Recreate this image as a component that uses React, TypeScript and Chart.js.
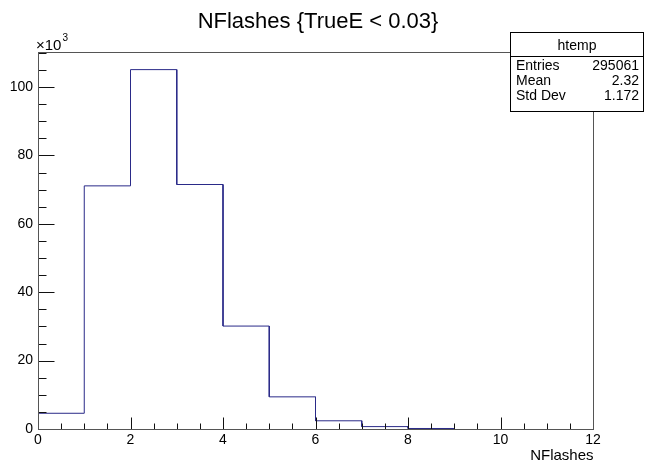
import React, { useEffect, useRef } from "react";
import { Chart, registerables } from "chart.js";

Chart.register(...registerables);

// ---- data ----
const chartTitle = "NFlashes {TrueE < 0.03}";
const xAxisTitle = "NFlashes";
const yExponent = "3"; // counts shown in units of 10^3
const binEdges = [0, 1, 2, 3, 4, 5, 6, 7, 8, 9];
const binCounts = [4.6, 71.1, 105.1, 71.5, 30.1, 9.4, 2.4, 0.7, 0.15]; // ×10^3 entries
const xTickLabels = [0, 2, 4, 6, 8, 10, 12];
const yTickLabels = [0, 20, 40, 60, 80, 100];
const statsTitle = "htemp";
const statsNames = ["Entries", "Mean", "Std Dev"];
const statsValues = ["295061", "2.32", "1.172"];

const FONT = "'Liberation Sans', Arial, Helvetica, sans-serif";

const rootStyle = {
  id: "rootStyle",
  afterDraw(chart: any) {
    const { ctx, chartArea, scales } = chart;
    const xs = scales.x;
    const ys = scales.y;
    const L = Math.round(chartArea.left) + 0.5;
    const R = Math.round(chartArea.right) + 0.5;
    const T = Math.round(chartArea.top) + 0.5;
    const B = Math.round(chartArea.bottom) + 0.5;
    ctx.save();
    // ticks
    ctx.strokeStyle = "#111";
    ctx.lineWidth = 1;
    ctx.beginPath();
    for (let v = xs.min; v <= xs.max + 1e-9; v += 0.5) {
      const px = Math.round(xs.getPixelForValue(v)) + 0.5;
      const major = Math.abs(v / 2 - Math.round(v / 2)) < 1e-9;
      ctx.moveTo(px, B);
      ctx.lineTo(px, B - (major ? 12 : 6));
    }
    for (let v = 0; v <= ys.max + 1e-9; v += 5) {
      const py = Math.round(ys.getPixelForValue(v)) + 0.5;
      const major = Math.abs(v / 20 - Math.round(v / 20)) < 1e-9;
      ctx.moveTo(L, py);
      ctx.lineTo(L + (major ? 16 : 8), py);
    }
    ctx.stroke();
    // frame
    ctx.strokeStyle = "#555";
    ctx.strokeRect(L, T, R - L, B - T);

    // title
    ctx.fillStyle = "#000";
    ctx.font = `22px ${FONT}`;
    ctx.textAlign = "center";
    ctx.textBaseline = "alphabetic";
    ctx.fillText(chartTitle, 318, 28);

    // x10^3
    ctx.textAlign = "left";
    ctx.font = `15px ${FONT}`;
    ctx.fillText("\u00d710", 36, 50);
    const w = ctx.measureText("\u00d710").width;
    ctx.font = `10px ${FONT}`;
    ctx.fillText(yExponent, 36 + w + 1, 41);

    // x axis title
    ctx.font = `15px ${FONT}`;
    ctx.textAlign = "right";
    ctx.fillText(xAxisTitle, R, 460);

    // stats box
    const bx = 510.5, by = 32.5, bw = 133, bh = 79;
    ctx.fillStyle = "#fff";
    ctx.fillRect(bx, by, bw, bh);
    ctx.strokeStyle = "#000";
    ctx.strokeRect(bx, by, bw, bh);
    ctx.beginPath();
    ctx.moveTo(bx, 56.5);
    ctx.lineTo(bx + bw, 56.5);
    ctx.stroke();
    ctx.fillStyle = "#000";
    ctx.font = `14px ${FONT}`;
    ctx.textAlign = "center";
    ctx.fillText(statsTitle, bx + bw / 2, 50);
    const rowsY = [70, 85, 100];
    statsNames.forEach((n, i) => {
      ctx.textAlign = "left";
      ctx.fillText(n, 516, rowsY[i]);
      ctx.textAlign = "right";
      ctx.fillText(statsValues[i], 639, rowsY[i]);
    });
    ctx.restore();
  },
};

export default function App() {
  const ref = useRef<HTMLCanvasElement | null>(null);
  useEffect(() => {
    if (!ref.current) return;
    const pts: { x: number; y: number }[] = [{ x: binEdges[0], y: 0 }];
    binCounts.forEach((c, i) => {
      pts.push({ x: binEdges[i], y: c });
      pts.push({ x: binEdges[i + 1], y: c });
    });
    pts.push({ x: binEdges[binEdges.length - 1], y: 0 });

    const chart = new Chart(ref.current, {
      type: "line",
      data: {
        datasets: [
          {
            data: pts,
            borderColor: "#2a2a88",
            borderWidth: 1,
            pointRadius: 0,
            tension: 0,
            fill: false,
          },
        ],
      },
      plugins: [rootStyle],
      options: {
        animation: false,
        responsive: false,
        devicePixelRatio: 1,
        layout: { padding: { top: 52, right: 52, left: 0, bottom: 0 } },
        plugins: { legend: { display: false }, tooltip: { enabled: false }, title: { display: false } },
        scales: {
          x: {
            type: "linear",
            min: 0,
            max: 12,
            grid: { display: false, drawTicks: false },
            border: { display: false },
            afterFit: (s: any) => {
              s.height = 34;
            },
            afterBuildTicks: (s: any) => {
              s.ticks = xTickLabels.map((v) => ({ value: v }));
            },
            ticks: {
              autoSkip: false,
              maxRotation: 0,
              padding: 3,
              color: "#000",
              font: { family: FONT, size: 14 },
            },
          },
          y: {
            type: "linear",
            min: 0,
            max: 110.25,
            grid: { display: false, drawTicks: false },
            border: { display: false },
            afterFit: (s: any) => {
              s.width = 38;
            },
            afterBuildTicks: (s: any) => {
              s.ticks = yTickLabels.map((v) => ({ value: v }));
            },
            ticks: {
              autoSkip: false,
              padding: 5,
              color: "#000",
              font: { family: FONT, size: 14 },
            },
          },
        },
      },
    });
    return () => chart.destroy();
  }, []);
  return (
    <div style={{ position: "fixed", left: 0, top: 0, width: 645, height: 463, background: "#fff" }}>
      <canvas ref={ref} width={645} height={463} style={{ width: 645, height: 463 }} />
    </div>
  );
}
